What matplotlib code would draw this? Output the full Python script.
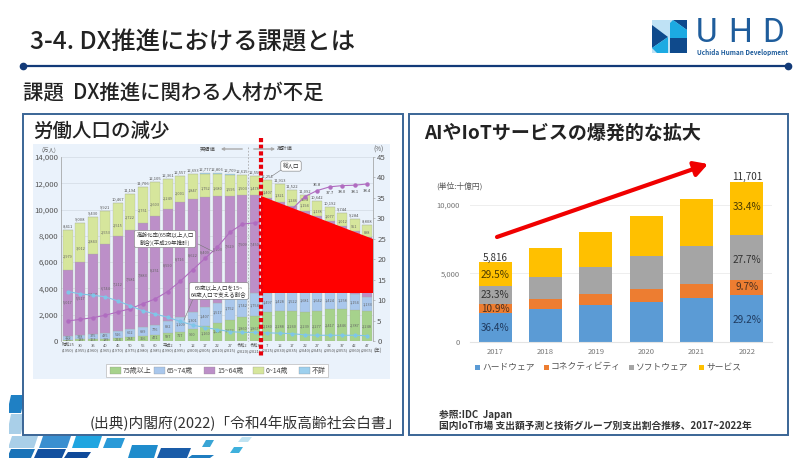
"""
DX slide - labour force and IoT market charts
Run this script to generate the slide as a PNG image.

Usage: python plot.py
"""

import matplotlib.pyplot as plt
import matplotlib.patches as mpatches

plt.rcParams["font.family"] = ["Noto Sans CJK JP", "DejaVu Sans"]


def inset(fig, left, top, right, bottom):
    # pixel box of the 800x475 slide -> figure fractions
    return fig.add_axes([left / 800, (475 - bottom) / 475, (right - left) / 800, (bottom - top) / 475])


def draw_population(fig):
    era = ["昭和25", "30", "35", "40", "45", "50", "55", "60", "平成2", "7", "12", "17", "22", "27", "令和2", "令和3",
           "7", "12", "17", "22", "27", "32", "37", "42", "47"]
    years = [1950, 1955, 1960, 1965, 1970, 1975, 1980, 1985, 1990, 1995, 2000, 2005, 2010, 2015, 2020, 2021,
             2025, 2030, 2035, 2040, 2045, 2050, 2055, 2060, 2065]
    over75 = [106, 139, 163, 189, 224, 284, 366, 471, 597, 717, 900, 1160, 1407, 1632, 1860, 1867,
              2180, 2288, 2260, 2239, 2277, 2417, 2446, 2387, 2248]
    age65 = [309, 338, 375, 435, 516, 602, 699, 776, 892, 1109, 1301, 1407, 1517, 1752, 1742, 1754,
             1497, 1428, 1522, 1681, 1642, 1424, 1258, 1154, 1133]
    age15 = [5017, 5517, 6047, 6744, 7212, 7581, 7883, 8251, 8590, 8716, 8622, 8409, 8103, 7629, 7509, 7450,
             7170, 6875, 6494, 5978, 5585, 5275, 5028, 4793, 4529]
    age0 = [2979, 3012, 2843, 2553, 2515, 2722, 2751, 2603, 2249, 2001, 1847, 1752, 1680, 1595, 1503, 1478,
            1407, 1321, 1246, 1194, 1138, 1077, 1012, 951, 898]
    unknown = [0, 0, 0, 0, 0, 5, 6, 4, 33, 13, 23, 49, 99, 101, 1, 1, 0, 0, 0, 0, 0, 0, 0, 0, 0]
    totals = [8411, 9008, 9430, 9921, 10467, 11194, 11706, 12105, 12361, 12557, 12693, 12777, 12806, 12709, 12615, 12550,
              12254, 11913, 11522, 11092, 10642, 10192, 9744, 9284, 8808]
    aging = [4.9, 5.3, 5.7, 6.3, 7.1, 7.9, 9.1, 10.3, 12.1, 14.6, 17.4, 20.2, 23.0, 26.6, 28.6, 28.9,
             29.6, 31.2, 32.3, 35.3, 36.8, 37.7, 38.0, 38.1, 38.4]
    support = [12.1, 11.5, 11.2, 10.8, 9.8, 8.6, 7.4, 6.6, 5.8, 4.8, 3.9, 3.3, 2.8, 2.3, 2.1, 2.1,
               2.0, 1.9, 1.8, 1.5, 1.4, 1.4, 1.4, 1.4, 1.3]

    ax = inset(fig, 61, 157, 373, 341)
    ax.set_facecolor("none")
    x = list(range(len(years)))

    # Stacked bars, bottom to top
    bottom = [0] * len(x)
    stack = [(over75, "#a6d28c", 0.5), (age65, "#a9c7ec", 0.5), (age15, "#bc8fc8", 0.5), (age0, "#d6e69c", 0.35), (unknown, "#9dd0ee", 0.5)]
    for values, color, place in stack:
        ax.bar(x, values, 0.8, bottom=bottom, color=color, edgecolor="#a8b09a", linewidth=0.2, zorder=2)
        for i, v in enumerate(values):
            if v > 100 and color != "#9dd0ee":
                ax.text(i, bottom[i] + v * place, f"{v:,}", fontsize=2.8, ha="center", va="center", color="#666", zorder=4)
        bottom = [b + v for b, v in zip(bottom, values)]
    for i, t in enumerate(totals):
        ax.text(i, t + 130, f"{t:,}", fontsize=3, ha="center", va="bottom", color="#555", zorder=4)

    ax.set_xlim(-0.56, 24.48)
    ax.set_ylim(0, 14000)
    ax.set_yticks(range(0, 14001, 2000))
    ax.set_yticklabels([f"{v:,}" for v in range(0, 14001, 2000)], fontsize=5.6, color="#555")
    ax.set_xticks(x)
    ax.set_xticklabels([f"{e}\n({y})" for e, y in zip(era, years)], fontsize=3, color="#555", linespacing=1.3)
    ax.tick_params(axis="both", length=0, pad=2)
    ax.grid(axis="y", color="#d3dbe3", lw=0.5, zorder=0)
    for side in ["top", "bottom", "right"]:
        ax.spines[side].set_visible(False)
    ax.spines["left"].set_color("#999")
    ax.spines["left"].set_linewidth(0.5)

    # Ratio lines on the right axis
    ax2 = ax.twinx()
    ax2.plot(x, aging, color="#b06cc0", lw=0.8, marker="o", ms=2.2, zorder=5)
    ax2.plot(x, support, color="#7fc6e8", lw=0.8, marker="o", ms=2, zorder=5)
    ax2.text(19, aging[19] - 0.9, f"{aging[19]}", fontsize=3, ha="center", va="center", color="#444")
    ax2.text(20, aging[20] + 1.4, f"{aging[20]}", fontsize=3, ha="center", va="center", color="#444")
    for i in range(21, 25):
        ax2.text(i, aging[i] - 1.6, f"{aging[i]}", fontsize=3, ha="center", va="center", color="#444")
    ax2.set_ylim(0, 45)
    ax2.set_yticks(range(0, 46, 5))
    ax2.set_yticklabels(range(0, 46, 5), fontsize=5.6, color="#555")
    ax2.tick_params(axis="y", length=1.5, width=0.4, pad=1.5, color="#999")
    for side in ["top", "bottom", "left"]:
        ax2.spines[side].set_visible(False)
    ax2.spines["right"].set_color("#999")
    ax2.spines["right"].set_linewidth(0.5)


def draw_iot(fig):
    years = ["2017", "2018", "2019", "2020", "2021", "2022"]
    hardware = [2117, 2366, 2683, 2927, 3195, 3417]
    connectivity = [634, 756, 805, 951, 1025, 1135]
    software = [1355, 1634, 2000, 2390, 2804, 3241]
    service = [1716, 2098, 2512, 2927, 3415, 3908]

    ax = inset(fig, 470, 171, 772, 341.7)
    ax.set_facecolor("none")
    bottom = [0] * 6
    for values, color in [(hardware, "#5b9bd5"), (connectivity, "#ed7d31"), (software, "#a5a5a5"), (service, "#ffc000")]:
        ax.bar(years, values, 0.66, bottom=bottom, color=color, zorder=2)
        bottom = [b + v for b, v in zip(bottom, values)]

    # Share labels only on the first and the last bar
    ax.text(0, 1030, "36.4%", fontsize=7.2, ha="center", va="center", color="#1f3a5f", zorder=3)
    ax.text(0, 2420, "10.9%", fontsize=7.2, ha="center", va="center", color="#4a3020", zorder=3)
    ax.text(0, 3440, "23.3%", fontsize=7.2, ha="center", va="center", color="#333", zorder=3)
    ax.text(0, 4880, "29.5%", fontsize=7.2, ha="center", va="center", color="#4a3a00", zorder=3)
    ax.text(5, 1590, "29.2%", fontsize=7.2, ha="center", va="center", color="#1f3a5f", zorder=3)
    ax.text(5, 3970, "9.7%", fontsize=7.2, ha="center", va="center", color="#4a3020", zorder=3)
    ax.text(5, 6000, "27.7%", fontsize=7.2, ha="center", va="center", color="#333", zorder=3)
    ax.text(5, 9830, "33.4%", fontsize=7.2, ha="center", va="center", color="#4a3a00", zorder=3)
    ax.text(0, 6130, "5,816", fontsize=7.2, ha="center", va="center", color="#333")
    ax.text(5, 12030, "11,701", fontsize=7.2, ha="center", va="center", color="#333", clip_on=False)

    ax.set_xlim(-0.5, 5.5)
    ax.set_ylim(0, 12500)
    ax.set_yticks([0, 5000, 10000])
    ax.set_yticklabels(["0", "5,000", "10,000"], fontsize=5.5, color="#777")
    ax.tick_params(axis="both", length=0)
    ax.tick_params(axis="y", pad=7.5)
    ax.tick_params(axis="x", labelsize=5.5, labelcolor="#777", pad=4.5)
    ax.grid(axis="y", color="#eeeeee", lw=0.7, zorder=0)
    for side in ["top", "left", "right"]:
        ax.spines[side].set_visible(False)
    ax.spines["bottom"].set_color("#e4e4e4")


def draw_slide():
    fig = plt.figure(figsize=(8, 4.75), dpi=100)
    fig.patch.set_facecolor("white")

    ax = fig.add_axes([0, 0, 1, 1])
    ax.set_xlim(0, 800)
    ax.set_ylim(475, 0)
    ax.axis("off")

    # =========== HEADER ===========
    ax.text(30, 42, "3-4. DX推進における課題とは", fontsize=17.6, fontweight="medium", va="center", color="#222")
    ax.plot([23, 788], [65.5, 65.5], color="#123a78", lw=1.6)
    ax.plot([23, 788], [65.5, 65.5], "o", color="#123a78", ms=4.5)
    ax.text(23, 92, "課題  DX推進に関わる人材が不足", fontsize=14.7, fontweight="medium", va="center", color="#222")

    # Logo
    ax.add_patch(mpatches.Rectangle((652, 20), 35, 33, facecolor="#bfe2f5", edgecolor="none"))
    ax.add_patch(mpatches.Polygon([(652, 25), (668, 37), (652, 48)], facecolor="#0f4a8c"))
    ax.add_patch(mpatches.Polygon([(652, 48), (668, 37), (668, 53), (657, 53)], facecolor="#1caae2"))
    ax.add_patch(mpatches.Polygon([(673, 20), (687, 20), (687, 30)], facecolor="#0f4a8c"))
    ax.add_patch(mpatches.Polygon([(670, 23), (673, 20), (687, 30), (687, 38), (670, 38)], facecolor="#1caae2"))
    ax.add_patch(mpatches.Polygon([(670, 38), (687, 38), (687, 53), (670, 53)], facecolor="#0f4a8c"))
    for letter, x in [("U", 696), ("H", 728), ("D", 762)]:
        ax.text(x, 33.5, letter, fontsize=24, family=["Roboto", "DejaVu Sans"], va="center", color="#1f5d9c")
    ax.text(697, 52, "Uchida Human Development", fontsize=4.6, fontweight="bold", va="center", color="#1f5d9c")

    # Slide decoration, bottom left
    tiles = [
        (9, 23, 395, 413, "#1f80c4"), (9, 23, 414, 434, "#a9cfe8"),
        (10, 36, 436, 448, "#a9cfe8"), (41, 69, 436, 448, "#3a8fd0"), (74, 100, 436, 448, "#20a5e0"),
        (105, 123, 438, 448, "#2a9ad8"), (9, 33, 449, 458, "#1a73b8"), (36, 64, 449, 458, "#12509f"),
        (66, 89, 452, 458, "#0f4a9a"), (130, 156, 445, 458, "#1f8ccc"), (159, 189, 448, 458, "#1a5ca8"),
        (190, 212, 455, 458, "#1f7dc0"), (204, 212, 440, 447, "#3aa5d5"), (232, 241, 447, 453, "#3fb0dc"),
        (240, 250, 437, 442, "#bfe3f2"),
    ]
    for x0, x1, y0, y1, color in tiles:
        ax.add_patch(mpatches.Polygon([(x0 + 2, y0), (x1 + 2, y0), (x1 - 2, y1), (x0 - 2, y1)], facecolor=color, edgecolor="none"))
    ax.add_patch(mpatches.Rectangle((0, 390), 9, 75, facecolor="white", edgecolor="none"))

    # =========== PANELS ===========
    ax.add_patch(mpatches.Rectangle((23, 114), 380, 321, facecolor="white", edgecolor="#3a6596", lw=1.4))
    ax.add_patch(mpatches.Rectangle((409, 114), 379, 321, facecolor="white", edgecolor="#3a6596", lw=1.4))
    ax.text(33, 131, "労働人口の減少", fontsize=14, fontweight="medium", va="center", color="#222")
    ax.text(424, 133, "AIやIoTサービスの爆発的な拡大", fontsize=13.7, fontweight="bold", va="center", color="#222")
    ax.add_patch(mpatches.Rectangle((33, 144), 357, 235, facecolor="#eaf2fb", edgecolor="none"))
    ax.text(90, 423, "(出典)内閣府(2022)「令和4年版高齢社会白書」", fontsize=10.6, va="center", color="#333")

    ax.text(49, 150, "(万人)", fontsize=4, ha="center", va="center", color="#555")
    ax.text(378, 150, "(%)", fontsize=4.5, ha="center", va="center", color="#555")
    ax.text(378, 350, "(年)", fontsize=3.5, ha="center", va="center", color="#555")
    ax.text(436, 186, "(単位:十億円)", fontsize=5.6, va="center", color="#555")
    ax.text(439, 415, "参照:IDC  Japan", fontsize=7, fontweight="bold", va="center", color="#333")
    ax.text(439, 426, "国内IoT市場 支出額予測と技術グループ別支出割合推移、2017~2022年", fontsize=7,
            fontweight="bold", va="center", color="#333")

    # Population legend
    ax.add_patch(mpatches.Rectangle((106, 364), 222, 13, facecolor="white", edgecolor="#bbb", lw=0.5))
    legend_items = [
        ("#a6d28c", "75歳以上", 110),
        ("#a9c7ec", "65~74歳", 154),
        ("#bc8fc8", "15~64歳", 204),
        ("#d6e69c", "0~14歳", 253),
        ("#9dd0ee", "不詳", 299),
    ]
    for color, label, x in legend_items:
        ax.add_patch(mpatches.Rectangle((x, 367), 11, 6.5, facecolor=color, edgecolor="#888", lw=0.2))
        ax.text(x + 13, 370.5, label, fontsize=5, va="center", color="#444")

    # IoT legend
    legend_items = [
        ("#5b9bd5", "ハードウェア", 475),
        ("#ed7d31", "コネクティビティ", 544),
        ("#a5a5a5", "ソフトウェア", 629),
        ("#ffc000", "サービス", 699),
    ]
    for color, label, x in legend_items:
        ax.add_patch(mpatches.Rectangle((x, 364.5), 5, 5, facecolor=color, edgecolor="none"))
        ax.text(x + 7, 367, label, fontsize=6.3, va="center", color="#555")

    # =========== CHARTS ===========
    draw_population(fig)
    draw_iot(fig)

    # =========== OVERLAY ===========
    top = fig.add_axes([0, 0, 1, 1], zorder=10)
    top.set_xlim(0, 800)
    top.set_ylim(475, 0)
    top.axis("off")

    # Actual / projected marks
    top.plot([248, 248], [147, 341], linestyle=(0, (2, 2)), color="#aaa", lw=0.6)
    top.text(208, 149, "実績値", fontsize=3.8, ha="center", va="center", color="#444")
    top.text(285, 149, "推計値", fontsize=3.8, ha="center", va="center", color="#444")
    top.annotate("", xy=(218, 149), xytext=(245, 149), arrowprops=dict(arrowstyle="-|>", color="#aaa", lw=1, mutation_scale=4))
    top.annotate("", xy=(278, 149), xytext=(251, 149), arrowprops=dict(arrowstyle="-|>", color="#aaa", lw=1, mutation_scale=4))

    # Red cover over the projected working-age part
    top.add_patch(mpatches.Polygon([(261, 196), (373, 239), (373, 293), (261, 293)], facecolor="#ff0000", edgecolor="none"))
    top.plot([261, 261], [138, 356], linestyle=(0, (1, 0.6)), color="#e8000b", lw=3)

    # Callouts
    box = dict(boxstyle="round,pad=0.35", facecolor="white", edgecolor="#777", lw=0.4)
    top.text(291, 166, "総人口", fontsize=4, ha="center", va="center", color="#333", bbox=box)
    top.plot([281, 272], [170, 176], color="#777", lw=0.4)
    top.text(165, 239, "高齢化率(65歳以上人口\n割合)(平成29年推計)", fontsize=4, ha="center", va="center", color="#333", bbox=box)
    top.plot([198, 214], [244, 252], color="#777", lw=0.4)
    top.text(219, 291, "65歳以上人口を15~\n64歳人口で支える割合", fontsize=4, ha="center", va="center", color="#333", bbox=box)
    top.plot([193, 184], [299, 320], color="#777", lw=0.4)

    # Growth arrow
    top.annotate("", xy=(708, 164), xytext=(497, 237),
                 arrowprops=dict(arrowstyle="-|>,head_width=0.45,head_length=0.8", color="#f00000", lw=3, shrinkA=0, shrinkB=0))

    plt.savefig("out.png", dpi=100, facecolor="white")
    print("Saved: out.png")


if __name__ == "__main__":
    draw_slide()
